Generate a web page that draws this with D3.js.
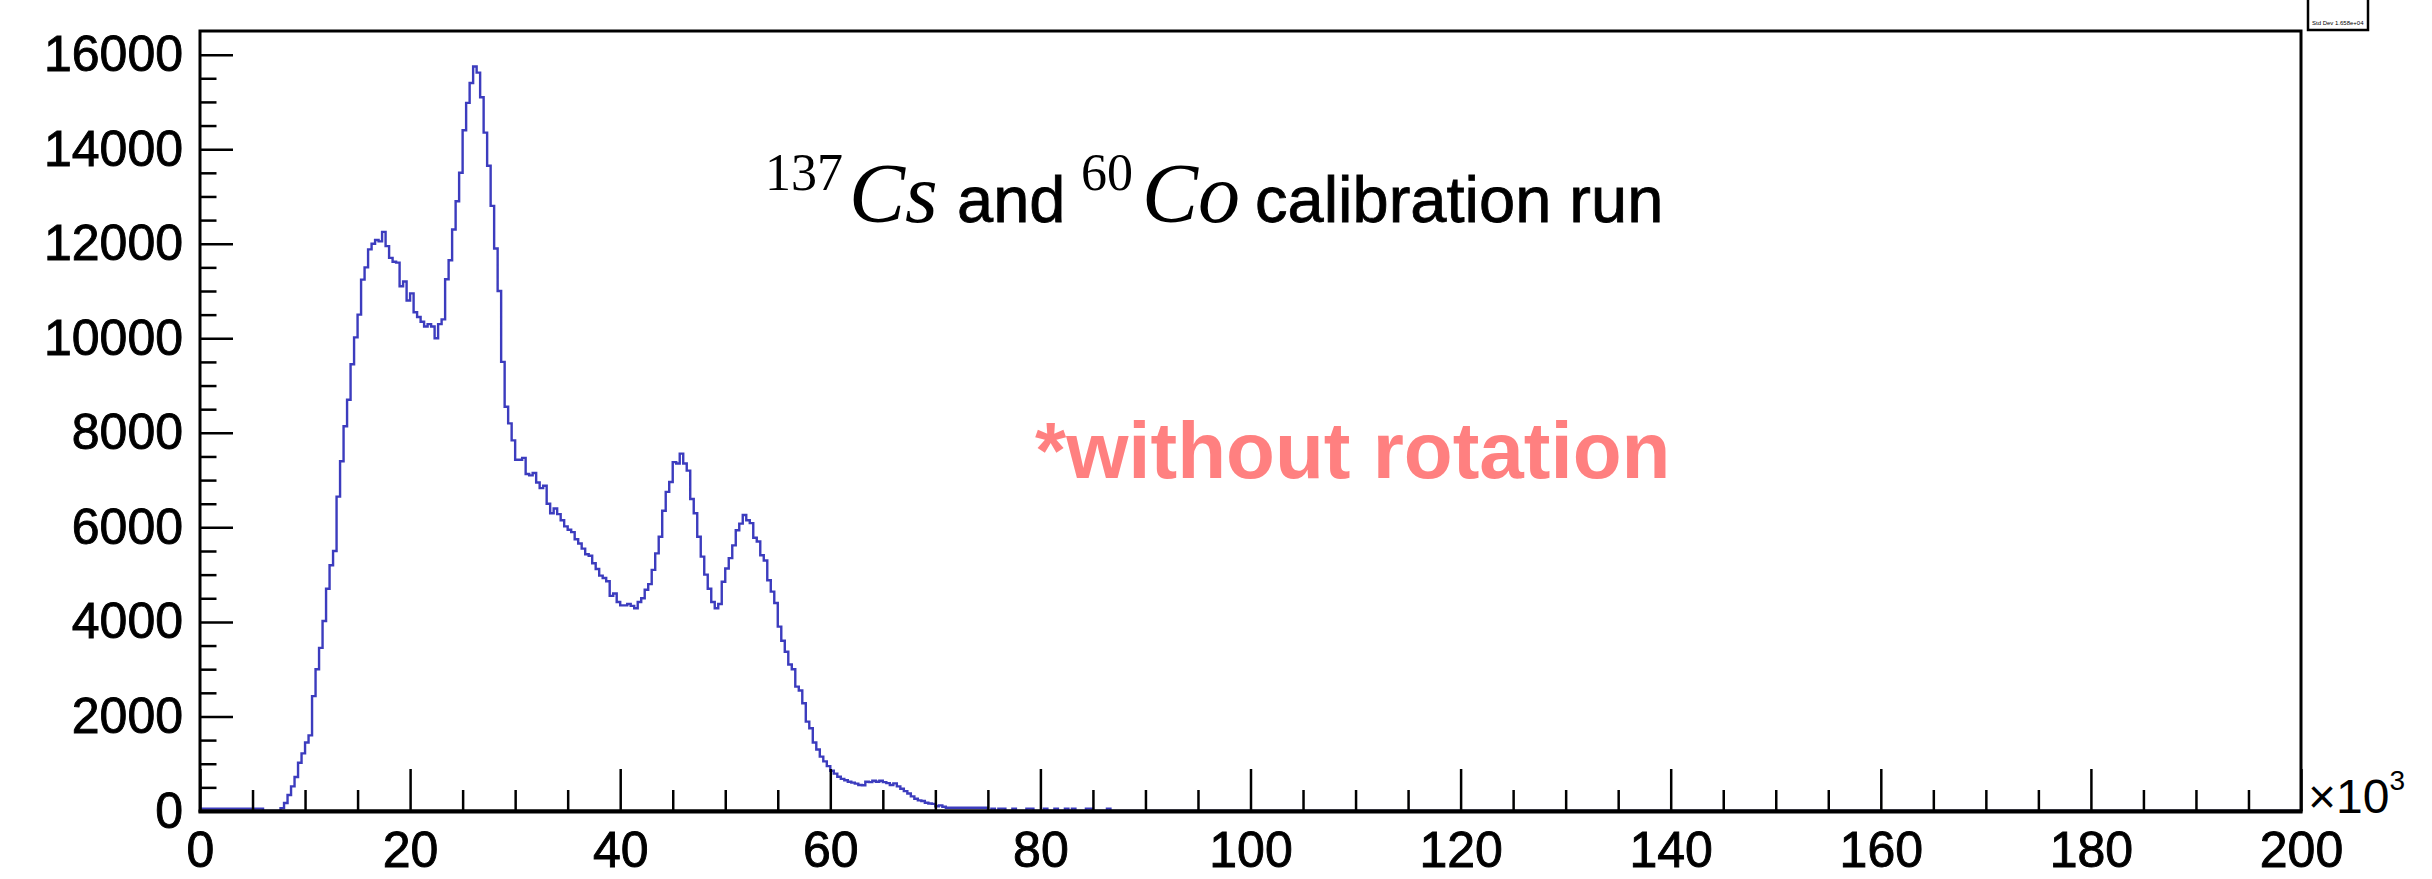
<!DOCTYPE html>
<html>
<head>
<meta charset="utf-8">
<script src="https://cdn.jsdelivr.net/npm/d3@7/dist/d3.min.js"></script>
<style>
  body { margin: 0; background: #fff; }
  svg { display: block; }
  .tick text { font-family: "Liberation Sans", Arial, sans-serif; fill: #000; stroke: #000; stroke-width: 0.9px; }
</style>
</head>
<body>
<div id="g-container"></div>
<script>

	// bin width in units of 10^3 (600 bins over 0..200)
	var binWidth = 1 / 3;

	// counts per bin, starting at x = 0
	var counts = [
		50, 50, 50, 50, 50, 50, 50, 50, 50, 50,
		50, 50, 50, 50, 50, 50, 50, 50, 0, 0,
		0, 0, 0, 60, 170, 340, 520, 720, 1020, 1220,
		1450, 1600, 2430, 3000, 3450, 4020, 4700, 5200, 5500, 6650,
		7400, 8140, 8700, 9450, 10020, 10500, 11240, 11500, 11880, 12000,
		12080, 12050, 12250, 11950, 11700, 11620, 11600, 11100, 11200, 10800,
		10950, 10550, 10450, 10350, 10250, 10300, 10250, 10000, 10300, 10400,
		11250, 11650, 12300, 12900, 13500, 14400, 14980, 15400, 15750, 15620,
		15100, 14350, 13650, 12800, 11900, 11000, 9500, 8550, 8200, 7840,
		7430, 7430, 7470, 7130, 7100, 7150, 6950, 6830, 6880, 6500,
		6300, 6400, 6280, 6150, 6020, 5950, 5900, 5750, 5660, 5550,
		5430, 5400, 5240, 5120, 4980, 4930, 4860, 4550, 4600, 4420,
		4350, 4350, 4380, 4340, 4290, 4420, 4500, 4680, 4800, 5100,
		5450, 5800, 6350, 6750, 6960, 7380, 7350, 7560, 7350, 7200,
		6600, 6300, 5800, 5380, 5000, 4700, 4420, 4290, 4380, 4850,
		5130, 5350, 5620, 5940, 6080, 6260, 6150, 6090, 5780, 5700,
		5410, 5300, 4880, 4640, 4400, 3900, 3600, 3370, 3100, 3000,
		2630, 2550, 2280, 1890, 1750, 1450, 1300, 1150, 1050, 950,
		850, 790, 725, 680, 650, 620, 600, 580, 550, 545,
		620, 610, 640, 620, 640, 610, 590, 550, 585, 520,
		470, 420, 370, 310, 260, 225, 210, 175, 160, 150,
		100, 120, 90, 70, 70, 70, 70, 70, 70, 70,
		70, 70, 70, 70, 70, 0, 50, 0, 50, 50,
		0, 0, 50, 0, 0, 0, 50, 50, 0, 0,
		0, 50, 0, 0, 50, 0, 0, 50, 0, 50,
		0, 0, 0, 50, 50, 0, 0, 0, 0, 50
	];

	var xTickLabels = [0, 20, 40, 60, 80, 100, 120, 140, 160, 180, 200];
	var xMinorTicks = d3.range(0, 200.01, 5);
	var yTickLabels = [0, 2000, 4000, 6000, 8000, 10000, 12000, 14000, 16000];
	var yMinorTicks = d3.range(0, 16001, 500);
	var xMax = 200;
	var yMax = 16500;

	var config = {
		"el": "#g-container",
		"width": 2432,
		"height": 879,
		"left": 200,
		"right": 2301,
		"top": 31,
		"bottom": 811
	};

	var svg = d3.select(config.el).append("svg")
		.attr("width", config.width)
		.attr("height", config.height)

	svg.append("rect").attr("width", config.width).attr("height", config.height).attr("fill", "#fff")

	var x = d3.scaleLinear().domain([0, xMax]).range([config.left, config.right]);
	var y = d3.scaleLinear().domain([0, yMax]).range([config.bottom, config.top]);

	// histogram, drawn as steps
	var p = d3.path();
	p.moveTo(x(0), y(counts[0]));
	counts.forEach(function(c, i){
		p.lineTo(x(i * binWidth), y(c));
		p.lineTo(x((i + 1) * binWidth), y(c));
	});
	p.lineTo(x(counts.length * binWidth), y(0));
	p.lineTo(x(xMax), y(0));

	svg.append("path")
		.attr("d", p.toString())
		.attr("fill", "none")
		.attr("stroke", "#3c3cbe")
		.attr("stroke-width", 2.4)
		.attr("stroke-linejoin", "miter")

	// frame
	svg.append("rect")
		.attr("x", config.left)
		.attr("y", config.top)
		.attr("width", config.right - config.left)
		.attr("height", config.bottom - config.top)
		.attr("fill", "none")
		.attr("stroke", "#000")
		.attr("stroke-width", 3)

	// x axis
	var xAxis = svg.append("g").attr("transform", "translate(0," + config.bottom + ")")
		.call(d3.axisBottom(x).tickValues(xTickLabels).tickSize(-42).tickPadding(20).tickFormat(d3.format("d")))
	xAxis.selectAll("text").style("font-size", "50px")

	var xMinor = svg.append("g").attr("transform", "translate(0," + config.bottom + ")")
		.call(d3.axisBottom(x).tickValues(xMinorTicks.filter(function(d){ return d % 20 != 0; })).tickSize(-21).tickFormat(""))

	// y axis
	var yAxis = svg.append("g").attr("transform", "translate(" + config.left + ",0)")
		.call(d3.axisLeft(y).tickValues(yTickLabels).tickSize(-33).tickPadding(17).tickFormat(d3.format("d")))
	yAxis.selectAll("text").style("font-size", "50px")

	var yMinor = svg.append("g").attr("transform", "translate(" + config.left + ",0)")
		.call(d3.axisLeft(y).tickValues(yMinorTicks.filter(function(d){ return d % 2000 != 0; })).tickSize(-16.5).tickFormat(""))

	svg.selectAll(".domain").remove()
	svg.selectAll(".tick line").attr("stroke", "#000").attr("stroke-width", 2.5)

	// thicker bottom axis line
	svg.append("line")
		.attr("x1", config.left - 1.5).attr("x2", config.right + 1.5)
		.attr("y1", config.bottom + 0.5).attr("y2", config.bottom + 0.5)
		.attr("stroke", "#000").attr("stroke-width", 4)

	var serif = "'Liberation Serif', 'Times New Roman', serif";
	var sans = "'Liberation Sans', Arial, sans-serif";

	// x10^3 exponent label
	var expo = svg.append("text")
		.attr("x", config.right + 7)
		.attr("y", config.bottom + 2)
		.style("font-family", sans)
		.style("font-size", "48px")
	expo.append("tspan").text("\u00d710")
	expo.append("tspan").attr("dy", -23).style("font-size", "28px").text("3")

	// stats box stub, top right
	svg.append("rect")
		.attr("x", 2308).attr("y", -4).attr("width", 60).attr("height", 34)
		.attr("fill", "#fff").attr("stroke", "#000").attr("stroke-width", 2.5)
	svg.append("text").attr("x", 2312).attr("y", 25)
		.style("font-family", sans).style("font-size", "6px")
		.text("Std Dev   1.658e+04")

	// title
	var title = svg.append("text").attr("y", 222).style("fill", "#000")
	title.append("tspan").attr("x", 765).attr("y", 190).style("font-family", serif).style("font-size", "52px").text("137")
	title.append("tspan").attr("x", 849).attr("y", 222).style("font-family", serif).style("font-style", "italic").style("font-size", "84px").text("Cs")
	title.append("tspan").attr("x", 957).attr("y", 222).style("font-family", sans).style("font-size", "65px").style("stroke", "#000").style("stroke-width", "0.8px").text("and")
	title.append("tspan").attr("x", 1081).attr("y", 190).style("font-family", serif).style("font-size", "52px").text("60")
	title.append("tspan").attr("x", 1142).attr("y", 222).style("font-family", serif).style("font-style", "italic").style("font-size", "84px").text("Co")
	title.append("tspan").attr("x", 1255).attr("y", 222).style("font-family", sans).style("font-size", "65px").style("stroke", "#000").style("stroke-width", "0.8px").text("calibration run")

	svg.append("text")
		.attr("x", 1035).attr("y", 478)
		.style("font-family", sans)
		.style("font-weight", "bold")
		.style("font-size", "80px")
		.style("fill", "#ff8080")
		.text("*without rotation")

</script>
</body>
</html>
